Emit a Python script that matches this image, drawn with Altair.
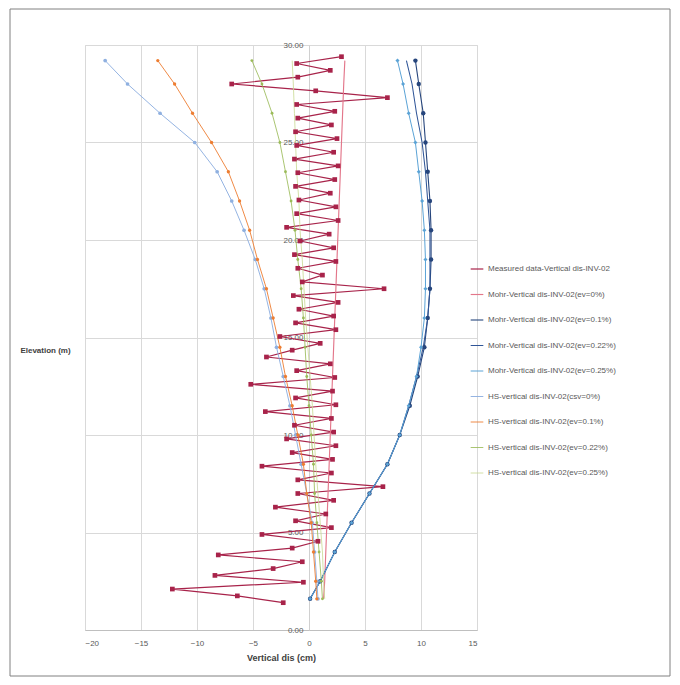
import altair as alt
import pandas as pd

# ---------------- data ----------------
names = [
    "Measured data-Vertical dis-INV-02",
    "Mohr-Vertical dis-INV-02(ev=0%)",
    "Mohr-Vertical dis-INV-02(ev=0.1%)",
    "Mohr-Vertical dis-INV-02(ev=0.22%)",
    "Mohr-Vertical dis-INV-02(ev=0.25%)",
    "HS-vertical dis-INV-02(csv=0%)",
    "HS-vertical dis-INV-02(ev=0.1%)",
    "HS-vertical dis-INV-02(ev=0.22%)",
    "HS-vertical dis-INV-02(ev=0.25%)",
]
colors = ["#A8234A", "#E3768A", "#26457C", "#2F5597", "#5BA3D6",
          "#8FB0E0", "#ED7D31", "#9BBB59", "#C8D890"]
widths = [1.2, 0.8, 1.5, 2.0, 3.0, 1.5, 2.0, 1.5, 1.0]
marker_names = [names[0], names[2], names[4], names[5], names[6], names[7]]
marker_shapes = ["square", "circle", "diamond", "circle", "circle", "circle"]
marker_sizes = [22, 8, 14, 8, 14, 10]

x_ticks = [-20, -15, -10, -5, 0, 5, 10, 15]
y_ticks = [0, 5, 10, 15, 20, 25, 30]

meas_elev = [29.4, 29.05, 28.7, 28.35, 28.0, 27.65, 27.3, 26.95, 26.6, 26.25,
             25.9, 25.55, 25.2, 24.85, 24.5, 24.15, 23.8, 23.45, 23.1, 22.75,
             22.4, 22.05, 21.7, 21.35, 21.0, 20.65, 20.3, 19.95, 19.6, 19.25,
             18.9, 18.55, 18.2, 17.85, 17.5, 17.15, 16.8, 16.45, 16.1, 15.75,
             15.4, 15.05, 14.7, 14.35, 14.0, 13.65, 13.3, 12.95, 12.6, 12.25,
             11.9, 11.55, 11.2, 10.85, 10.5, 10.15, 9.8, 9.45, 9.1, 8.75,
             8.4, 8.05, 7.7, 7.35, 7.0, 6.65, 6.3, 5.95, 5.6, 5.25,
             4.9, 4.55, 4.2, 3.85, 3.5, 3.15, 2.8, 2.45, 2.1, 1.75,
             1.4]
meas_val = [2.9, -1.1, 1.9, -1.0, -6.9, 0.6, 7.0, -1.1, 2.3, -1.0,
            2.0, -1.2, 2.5, -1.1, 2.2, -1.3, 2.6, -1.0, 2.3, -1.2,
            1.9, -0.9, 2.4, -1.1, 2.6, -2.0, 1.8, -0.8, 2.2, -1.3,
            2.4, -1.0, 1.2, -0.6, 6.7, -1.4, 2.6, -0.9, 2.2, -1.2,
            2.4, -2.6, 1.0, -1.5, -3.8, 1.9, -1.1, 2.3, -5.2, 2.1,
            -1.2, 2.4, -3.9, 2.0, -1.3, 2.2, -2.0, 2.4, -1.5, 2.1,
            -4.2, 2.0, -1.0, 6.6, -1.0, 2.2, -3.0, 1.5, -1.2, 2.0,
            -4.2, 0.8, -1.5, -8.1, -0.6, -3.2, -8.4, -0.5, -12.2, -6.4,
            -2.3]

curve_elev = [29.2, 28.0, 26.5, 25.0, 23.5, 22.0, 20.5, 19.0, 17.5, 16.0,
              14.5, 13.0, 11.5, 10.0, 8.5, 7.0, 5.5, 4.0, 2.5, 1.6]
mohr_0 = [3.2, 3.1, 3.0, 2.9, 2.8, 2.7, 2.6, 2.5, 2.4, 2.3,
          2.2, 2.1, 2.0, 1.9, 1.8, 1.7, 1.6, 1.5, 1.4, 1.3]
mohr_01 = [9.5, 9.8, 10.2, 10.4, 10.6, 10.8, 10.9, 10.9, 10.8, 10.6,
           10.3, 9.7, 9.0, 8.1, 7.0, 5.4, 3.8, 2.3, 1.0, 0.1]
mohr_022 = [8.7, 9.2, 9.6, 10.1, 10.4, 10.6, 10.8, 10.8, 10.8, 10.6,
            10.2, 9.6, 8.9, 8.1, 7.0, 5.4, 3.8, 2.3, 1.0, 0.1]
mohr_025 = [7.9, 8.4, 8.9, 9.5, 9.8, 10.1, 10.3, 10.4, 10.4, 10.3,
            10.0, 9.6, 8.9, 8.1, 7.0, 5.4, 3.8, 2.3, 1.0, 0.1]
hs_0 = [-18.2, -16.2, -13.3, -10.2, -8.2, -6.9, -5.8, -4.8, -4.0, -3.4,
        -2.9, -2.3, -1.7, -1.2, -0.7, -0.2, 0.3, 0.5, 0.7, 0.8]
hs_01 = [-13.5, -12.0, -10.4, -8.7, -7.2, -6.2, -5.3, -4.6, -3.8, -3.2,
         -2.6, -2.1, -1.5, -1.0, -0.5, -0.2, 0.2, 0.4, 0.6, 0.7]
hs_022 = [-5.1, -4.2, -3.3, -2.6, -2.1, -1.6, -1.25, -1.0, -0.7, -0.5,
          -0.35, -0.2, 0.0, 0.2, 0.4, 0.5, 0.7, 0.9, 1.1, 1.2]
hs_025 = [-1.5, -1.4, -1.3, -1.2, -1.1, -0.9, -0.8, -0.6, -0.45, -0.3,
          -0.1, 0.1, 0.3, 0.45, 0.6, 0.8, 1.0, 1.2, 1.3, 1.4]

series = [
    (names[0], meas_elev, meas_val),
    (names[1], curve_elev, mohr_0),
    (names[2], curve_elev, mohr_01),
    (names[3], curve_elev, mohr_022),
    (names[4], curve_elev, mohr_025),
    (names[5], curve_elev, hs_0),
    (names[6], curve_elev, hs_01),
    (names[7], curve_elev, hs_022),
    (names[8], curve_elev, hs_025),
]

rows = []
for k, (name, elev, vals) in enumerate(series):
    for i, (e, v) in enumerate(zip(elev, vals)):
        rows.append({"series": name, "elev": e, "val": v, "idx": i})
df = pd.DataFrame(rows)

# ---------------- chart ----------------
W, H = 392, 585
x0_px = W * (0 - x_ticks[0]) / (x_ticks[-1] - x_ticks[0])

color = alt.Color(
    "series:N",
    scale=alt.Scale(domain=names, range=colors),
    sort=names,
    legend=alt.Legend(
        title=None, orient="none", legendX=385, legendY=217,
        symbolType="stroke", symbolSize=160, symbolStrokeWidth=1.6,
        labelFontSize=8, labelColor="#595959", labelLimit=260,
        rowPadding=14.5, labelFont="Liberation Sans",
    ),
)
x = alt.X(
    "val:Q",
    scale=alt.Scale(domain=[x_ticks[0], x_ticks[-1]], nice=False, zero=False),
    axis=alt.Axis(
        values=x_ticks, title="Vertical dis (cm)", grid=True, gridColor="#D9D9D9",
        domainColor="#BFBFBF", ticks=False, labelPadding=9, labelFontSize=8,
        labelColor="#595959", titleFontSize=9, titleFontWeight="bold",
        titleColor="#404040", titlePadding=6, labelFont="Liberation Sans",
        titleFont="Liberation Sans",
    ),
)
y = alt.Y(
    "elev:Q",
    scale=alt.Scale(domain=[y_ticks[0], y_ticks[-1]], nice=False, zero=False),
    axis=alt.Axis(
        values=y_ticks, format=".2f", title="Elevation (m)", grid=True,
        gridColor="#D9D9D9", domainColor="#D0D0D0", ticks=False,
        offset=-x0_px, labelPadding=6, labelFontSize=8, labelColor="#595959",
        titleAngle=0, titleX=-(x0_px + 85 - 45), titleY=305, titleAlign="center",
        titleBaseline="middle", titleFontSize=8, titleFontWeight="bold",
        titleColor="#404040", labelFont="Liberation Sans", titleFont="Liberation Sans",
    ),
)

lines = alt.Chart(df).mark_line(clip=True).encode(
    x=x, y=y, color=color,
    strokeWidth=alt.StrokeWidth("series:N", scale=alt.Scale(domain=names, range=widths), legend=None),
    order=alt.Order("idx:Q"),
    detail="series:N",
)

points = alt.Chart(df).transform_filter(
    alt.FieldOneOfPredicate(field="series", oneOf=marker_names)
).mark_point(filled=True, opacity=1).encode(
    x=x, y=y, color=color,
    shape=alt.Shape("series:N", scale=alt.Scale(domain=marker_names, range=marker_shapes), legend=None),
    size=alt.Size("series:N", scale=alt.Scale(domain=marker_names, range=marker_sizes), legend=None),
)

frame = alt.Chart(pd.DataFrame({"a": [0]})).mark_rect(
    fillOpacity=0, stroke="#808080", strokeWidth=1
).encode(
    x=alt.value(-75), x2=alt.value(585), y=alt.value(-36), y2=alt.value(631)
)

chart = alt.layer(frame, lines, points).properties(
    width=W, height=H,
    autosize=alt.AutoSizeParams(type="none"),
    padding={"left": 77, "top": 37, "right": 195, "bottom": 47},
).configure_view(strokeWidth=0).configure(background="white")

chart.save("out.html", embed_options={"renderer": "svg", "actions": False})
